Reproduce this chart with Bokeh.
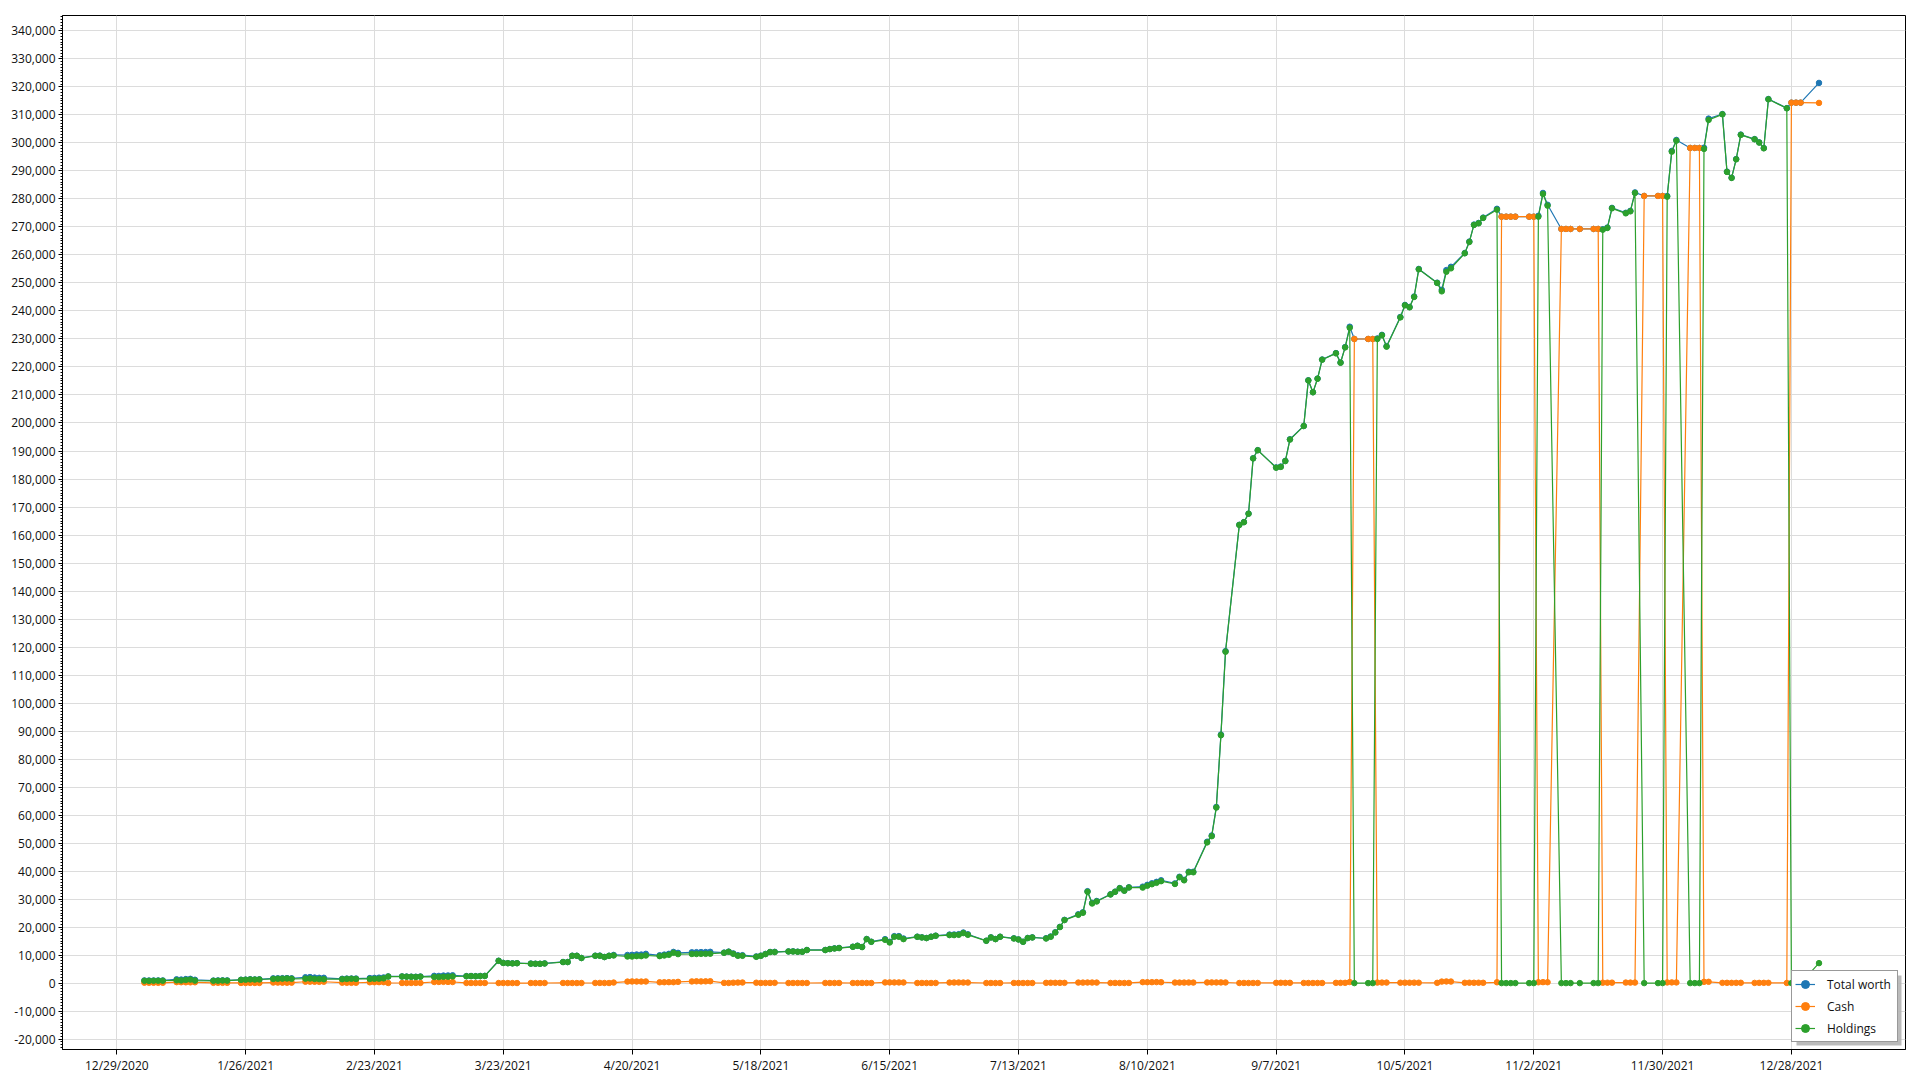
import pandas as pd
from bokeh.plotting import figure
from bokeh.models import (ColumnDataSource, FixedTicker, SingleIntervalTicker, NumeralTickFormatter,
                          CustomJSTickFormatter, Range1d, Legend, LegendItem, BoxAnnotation)
from bokeh.embed import file_html
from bokeh.resources import INLINE

# ---------------- data ----------------
closed_days = ["2021-01-18", "2021-02-15", "2021-04-02", "2021-05-31", "2021-07-05",
               "2021-09-06", "2021-10-11", "2021-11-11", "2021-11-25", "2021-12-24",
               "2021-12-31"]
dates = [d for d in pd.bdate_range("2021-01-04", "2022-01-03")
         if d.strftime("%Y-%m-%d") not in closed_days]

holdings = [
    820, 800, 830, 850, 840,                 # 1/4
    1000, 950, 1150, 1250, 900,              # 1/11
    820, 850, 900, 880,                      # 1/19
    1150, 1200, 1300, 1250, 1300,            # 1/25
    1500, 1550, 1600, 1650, 1550,            # 2/1
    1600, 1650, 1500, 1450, 1400,            # 2/8
    1400, 1500, 1550, 1500,                  # 2/16
    1500, 1550, 1600, 1700, 2350,            # 2/22
    2350, 2300, 2250, 2200, 2300,            # 3/1
    2200, 2150, 2250, 2300, 2400,            # 3/8
    2450, 2500, 2450, 2500, 2550,            # 3/15
    7960, 7200, 7100, 7050, 7100,            # 3/22
    6950, 6900, 6900, 7000,                  # 3/29
    7500, 7500, 9750, 9750, 8950,            # 4/5
    9750, 9750, 9290, 9750, 9860,            # 4/12
    9500, 9500, 9640, 9640, 9860,            # 4/19
    9640, 9860, 10100, 10820, 10360,         # 4/26
    10400, 10400, 10450, 10450, 10500,       # 5/3
    10820, 11190, 10460, 9750, 9750,         # 5/10
    9390, 9750, 10350, 11070, 11070,         # 5/17
    11290, 11290, 11180, 11180, 11790,       # 5/24
    11790, 12140, 12360, 12500,              # 6/1
    12960, 13320, 12860, 15710, 14750,       # 6/7
    15460, 14500, 16540, 16540, 15710,       # 6/14
    16540, 16290, 16070, 16540, 16900,       # 6/21
    17140, 17140, 17250, 17860, 17250,       # 6/28
    15110, 16290, 15710, 16540,              # 7/6
    15930, 15570, 14750, 16070, 16290,       # 7/12
    15930, 16540, 18070, 20000, 22500,       # 7/19
    24390, 25110, 32610, 28430, 29140,       # 7/26
    31650, 32600, 33880, 33000, 34140,       # 8/2
    34100, 34770, 35300, 35800, 36400,       # 8/9
    35400, 37800, 36700, 39570, 39570,       # 8/16
    50250, 52460, 62680, 88500, 118320,      # 8/23
    163600, 164570, 167600, 187350, 190250,  # 8/30
    184040, 184320, 186390, 194070,          # 9/7
    198900, 215200, 210950, 215800, 222610,  # 9/13
    224860, 221500, 227000, 234000, 0,       # 9/20
    0, 0, 230000, 231290, 227250,            # 9/27
    237710, 242000, 241290, 245000, 254860,  # 10/4
    250000, 247000, 254000, 255210,          # 10/12
    260570, 264640, 270710, 271290, 273210,  # 10/18
    276180, 0, 0, 0, 0,                      # 10/25
    0, 0, 273680, 281790, 277610,            # 11/1
    0, 0, 0, 0,                              # 11/8
    0, 0, 269030, 269640, 276640,            # 11/15
    274860, 275570, 282140, 0,               # 11/22
    0, 0, 280820, 296890, 300820,            # 11/29
    0, 0, 0, 297860, 308210,                 # 12/6
    310210, 289640, 287500, 294140, 302860,  # 12/13
    301290, 300110, 298070, 315570,          # 12/20
    312360, 0, 0, 0,                         # 12/27
    7140,                                    # 1/3/2022
]

cash = [
    150, 130, 120, 110, 120,                 # 1/4
    350, 320, 300, 280, 300,                 # 1/11
    100, 120, 90, 100,                       # 1/19
    60, 50, 80, 70, 60,                      # 1/25
    200, 180, 160, 150, 170,                 # 2/1
    500, 520, 480, 450, 500,                 # 2/8
    150, 120, 100, 130,                      # 2/16
    300, 320, 350, 330, 50,                  # 2/22
    50, 40, 60, 80, 70,                      # 3/1
    400, 420, 450, 430, 400,                 # 3/8
    60, 50, 40, 60, 50,                      # 3/15
    30, 40, 30, 20, 30,                      # 3/22
    40, 30, 20, 50,                          # 3/29
    60, 50, 40, 30, 40,                      # 4/5
    60, 70, 50, 40, 200,                     # 4/12
    550, 600, 580, 560, 590,                 # 4/19
    300, 320, 350, 330, 450,                 # 4/26
    600, 650, 620, 640, 680,                 # 5/3
    80, 60, 150, 200, 220,                   # 5/10
    150, 60, 80, 70, 100,                    # 5/17
    40, 50, 60, 40, 50,                      # 5/24
    60, 40, 50, 60,                          # 6/1
    50, 40, 60, 50, 40,                      # 6/7
    250, 260, 240, 250, 230,                 # 6/14
    50, 60, 40, 50, 60,                      # 6/21
    200, 220, 230, 210, 200,                 # 6/28
    40, 50, 30, 40,                          # 7/6
    60, 50, 40, 60, 50,                      # 7/12
    100, 120, 110, 100, 90,                  # 7/19
    200, 180, 220, 210, 190,                 # 7/26
    60, 70, 50, 40, 60,                      # 8/2
    350, 330, 340, 360, 320,                 # 8/9
    200, 180, 190, 210, 200,                 # 8/16
    250, 260, 240, 250, 230,                 # 8/23
    50, 60, 40, 50, 60,                      # 8/30
    100, 120, 90, 110,                       # 9/7
    60, 50, 40, 60, 50,                      # 9/13
    100, 90, 110, 380, 230000,               # 9/20
    230000, 230000, 200, 180, 190,           # 9/27
    150, 160, 140, 170, 150,                 # 10/4
    100, 550, 600, 560,                      # 10/12
    120, 150, 130, 140, 120,                 # 10/18
    300, 273680, 273680, 273680, 273680,     # 10/25
    273680, 273680, 300, 350, 320,           # 11/1
    269290, 269290, 269290, 269290,          # 11/8
    269290, 269290, 150, 160, 170,           # 11/15
    200, 180, 190, 281070,                   # 11/22
    281070, 281070, 240, 260, 250,           # 11/29
    298210, 298210, 298210, 450, 470,        # 12/6
    100, 110, 90, 100, 120,                  # 12/13
    80, 90, 100, 110,                        # 12/20
    60, 314390, 314390, 314390,              # 12/27
    314290,                                  # 1/3/2022
]

total_worth = [c + h for c, h in zip(cash, holdings)]

series_names = ["Total worth", "Cash", "Holdings"]
series_colors = ["#1f77b4", "#ff7f0e", "#2ca02c"]

tick_labels = ["12/29/2020", "1/26/2021", "2/23/2021", "3/23/2021", "4/20/2021",
               "5/18/2021", "6/15/2021", "7/13/2021", "8/10/2021", "9/7/2021",
               "10/5/2021", "11/2/2021", "11/30/2021", "12/28/2021"]

# ---------------- figure ----------------
src = ColumnDataSource(dict(x=dates, total=total_worth, cash=cash, holdings=holdings))

t0 = pd.Timestamp("2020-12-29")
x_start = t0 - pd.Timedelta(days=11.8)
x_end = t0 + pd.Timedelta(days=388.8)
y0, y1 = -23700, 345500
x_range = Range1d(start=x_start, end=x_end)
y_range = Range1d(start=y0, end=y1)

FL, FT, FR, FB = 62, 15, 15, 31          # borders around the frame (px)
W, H = 1920, 1080
p = figure(width=W, height=H, x_axis_type="datetime", x_range=x_range, y_range=y_range,
           output_backend="svg", toolbar_location=None,
           min_border_left=FL, min_border_right=FR, min_border_top=FT, min_border_bottom=FB)

p.background_fill_color = "white"
p.border_fill_color = "white"
p.outline_line_color = "black"
p.outline_line_width = 1
p.outline_line_alpha = 1

tick_ms = [int(pd.Timestamp(s).value // 10**6) for s in tick_labels]
p.xaxis.ticker = FixedTicker(ticks=tick_ms)
p.xaxis.formatter = CustomJSTickFormatter(code="""
const d = new Date(tick);
return (d.getUTCMonth() + 1) + "/" + d.getUTCDate() + "/" + d.getUTCFullYear();
""")
p.yaxis.ticker = SingleIntervalTicker(interval=10000, num_minor_ticks=10)
p.yaxis.formatter = NumeralTickFormatter(format="0,0")

for ax in (p.xaxis[0], p.yaxis[0]):
    ax.axis_line_color = "black"
    ax.major_tick_line_color = "black"
    ax.minor_tick_line_color = "black"
    ax.major_tick_in = 0
    ax.minor_tick_in = 0
    ax.major_label_text_font = "Open Sans"
    ax.major_label_text_font_size = "12px"
    ax.major_label_text_color = "#111111"
p.xaxis.major_tick_out = 5
p.xaxis.minor_tick_out = 0
p.xaxis.major_label_standoff = 2
p.yaxis.major_tick_out = 4
p.yaxis.minor_tick_out = 2
p.yaxis.major_label_standoff = 3

p.xgrid.grid_line_color = "#dcdcdc"
p.ygrid.grid_line_color = "#dcdcdc"
p.xgrid.grid_line_width = 1
p.ygrid.grid_line_width = 1

items = []
for name, col, color in zip(series_names, ["total", "cash", "holdings"], series_colors):
    r1 = p.line("x", col, source=src, line_color=color, line_width=1.2)
    r2 = p.scatter("x", col, source=src, marker="circle", size=5.5,
                   fill_color=color, line_color=color)
    items.append(LegendItem(label=name, renderers=[r1, r2]))

# legend drop shadow (a grey box offset 3px right/down behind the legend)
LM, LW, LH, SH = 7, 105, 70, 3
frame_w = W - FL - FR
frame_h = H - FT - FB
ms_per_px = (x_end - x_start).total_seconds() * 1000 / frame_w
val_per_px = (y1 - y0) / frame_h
x_end_ms = x_end.value // 10**6
shadow = BoxAnnotation(
    left=x_end_ms - (LM + LW - SH) * ms_per_px, right=x_end_ms - (LM - SH) * ms_per_px,
    bottom=y0 + (LM - SH) * val_per_px, top=y0 + (LM + LH - SH) * val_per_px,
    fill_color="#b4b4b4", fill_alpha=0.9, line_color=None)
p.add_layout(shadow)

legend = Legend(items=items, location="bottom_right", margin=LM, padding=3, spacing=2,
                glyph_width=20, glyph_height=20, label_height=20, label_standoff=12,
                label_width=67, label_text_font="Open Sans", label_text_font_size="12px",
                label_text_color="#111111", border_line_color="#333333", border_line_width=1,
                background_fill_color="white", background_fill_alpha=1)
p.add_layout(legend)

open("out.html", "w").write(file_html(p, INLINE))
